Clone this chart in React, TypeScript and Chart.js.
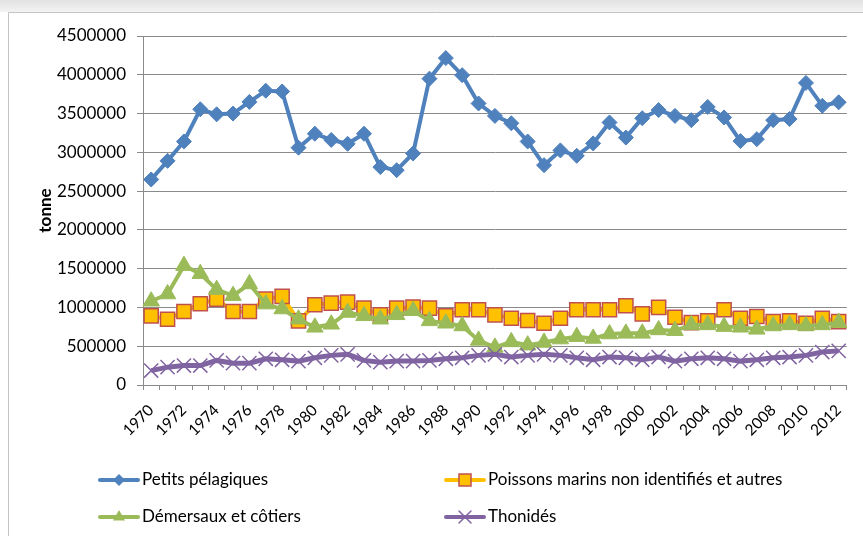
import React, { useEffect, useRef } from 'react';
import { Chart, registerables } from 'chart.js';

Chart.register(...registerables);

const years = ['1970','1971','1972','1973','1974','1975','1976','1977','1978','1979','1980','1981','1982','1983','1984','1985','1986','1987','1988','1989','1990','1991','1992','1993','1994','1995','1996','1997','1998','1999','2000','2001','2002','2003','2004','2005','2006','2007','2008','2009','2010','2011','2012'];

const petitsPelagiques = [2650000, 2890000, 3140000, 3555000, 3490000, 3500000, 3650000, 3795000, 3785000, 3060000, 3240000, 3160000, 3110000, 3240000, 2810000, 2770000, 2985000, 3950000, 4215000, 3995000, 3630000, 3470000, 3375000, 3140000, 2835000, 3025000, 2955000, 3115000, 3385000, 3190000, 3440000, 3545000, 3470000, 3415000, 3585000, 3450000, 3145000, 3170000, 3415000, 3430000, 3895000, 3600000, 3645000];

const poissonsMarins = [892000, 848000, 948000, 1048000, 1108000, 948000, 948000, 1108000, 1143000, 827000, 1035000, 1056000, 1069000, 991000, 905000, 991000, 1004000, 991000, 892000, 970000, 970000, 905000, 861000, 831000, 796000, 861000, 970000, 970000, 970000, 1022000, 918000, 1000000, 874000, 805000, 827000, 970000, 861000, 883000, 818000, 827000, 796000, 861000, 818000];

const demersaux = [1080000, 1173000, 1539000, 1435000, 1230000, 1152000, 1303000, 1043000, 980000, 848000, 744000, 783000, 935000, 892000, 848000, 905000, 957000, 827000, 796000, 761000, 575000, 485000, 556000, 513000, 548000, 592000, 623000, 600000, 657000, 666000, 666000, 710000, 700000, 775000, 775000, 753000, 744000, 718000, 761000, 775000, 761000, 775000, 805000];

const thonides = [186000, 230000, 251000, 251000, 317000, 282000, 282000, 338000, 325000, 308000, 351000, 382000, 395000, 317000, 295000, 308000, 308000, 317000, 338000, 351000, 382000, 395000, 360000, 382000, 395000, 382000, 351000, 325000, 360000, 351000, 325000, 360000, 308000, 338000, 351000, 338000, 308000, 325000, 351000, 360000, 382000, 425000, 440000];

const seriesNames = ['Petits pélagiques', 'Poissons marins non identifiés et autres', 'Démersaux et côtiers', 'Thonidés'];

const FONT = 'Lato, "Open Sans", sans-serif';
const GRID = '#8a8a8a';
const BLUE = '#4F81BD';
const YELLOW = '#FFC000';
const RED = '#C0504D';
const GREEN = '#9BBB59';
const PURPLE = '#8064A2';

function drawMarker(ctx: CanvasRenderingContext2D, kind: string, x: number, y: number) {
  ctx.save();
  if (kind === 'diamond') {
    const r = 6;
    ctx.fillStyle = BLUE;
    ctx.beginPath();
    ctx.moveTo(x - r, y); ctx.lineTo(x, y - r); ctx.lineTo(x + r, y); ctx.lineTo(x, y + r);
    ctx.closePath();
    ctx.fill();
  } else if (kind === 'square') {
    const s = 6;
    ctx.fillStyle = YELLOW;
    ctx.strokeStyle = RED;
    ctx.lineWidth = 1.5;
    ctx.fillRect(x - s, y - s, 2 * s, 2 * s);
    ctx.strokeRect(x - s, y - s, 2 * s, 2 * s);
  } else if (kind === 'triangle') {
    const r = 7;
    ctx.fillStyle = GREEN;
    ctx.beginPath();
    ctx.moveTo(x, y - r);
    ctx.lineTo(x + r * 0.866, y + r / 2);
    ctx.lineTo(x - r * 0.866, y + r / 2);
    ctx.closePath();
    ctx.fill();
  } else {
    const r = 6;
    ctx.strokeStyle = PURPLE;
    ctx.lineWidth = 1.5;
    ctx.beginPath();
    ctx.moveTo(x - r, y - r); ctx.lineTo(x + r, y + r);
    ctx.moveTo(x + r, y - r); ctx.lineTo(x - r, y + r);
    ctx.stroke();
  }
  ctx.restore();
}

export default function App() {
  const ref = useRef<HTMLCanvasElement>(null);

  useEffect(() => {
    const canvas = ref.current;
    if (!canvas) return;

    const framePlugin = {
      id: 'frame',
      beforeDraw(chart: any) {
        const { ctx, width, height } = chart;
        ctx.save();
        ctx.fillStyle = '#ffffff';
        ctx.fillRect(0, 0, width, height);
        const g = ctx.createLinearGradient(0, 0, 0, 12);
        g.addColorStop(0, '#e2e2e2');
        g.addColorStop(1, '#f3f3f3');
        ctx.fillStyle = g;
        ctx.fillRect(0, 0, width, 12);
        ctx.strokeStyle = '#c4c4c4';
        ctx.lineWidth = 1;
        ctx.beginPath();
        ctx.moveTo(8.5, height);
        ctx.lineTo(8.5, 12.5);
        ctx.lineTo(width, 12.5);
        ctx.stroke();
        ctx.restore();
      },
    };

    const legendPlugin = {
      id: 'customLegend',
      afterDraw(chart: any) {
        const { ctx } = chart;
        const items = [
          { name: seriesNames[0], color: BLUE, marker: 'diamond', x: 100, y: 480 },
          { name: seriesNames[1], color: YELLOW, marker: 'square', x: 446, y: 480 },
          { name: seriesNames[2], color: GREEN, marker: 'triangle', x: 100, y: 517 },
          { name: seriesNames[3], color: PURPLE, marker: 'cross', x: 446, y: 517 },
        ];
        ctx.save();
        for (const it of items) {
          ctx.strokeStyle = it.color;
          ctx.lineWidth = 4;
          ctx.lineCap = 'round';
          ctx.beginPath();
          ctx.moveTo(it.x, it.y);
          ctx.lineTo(it.x + 38, it.y);
          ctx.stroke();
          drawMarker(ctx, it.marker, it.x + 19, it.y);
          ctx.fillStyle = '#000';
          ctx.font = `17px ${FONT}`;
          ctx.textBaseline = 'middle';
          ctx.textAlign = 'left';
          ctx.fillText(it.name, it.x + 42, it.y);
        }
        ctx.restore();
      },
    };

    const chart = new Chart(canvas, {
      type: 'line',
      data: {
        labels: years,
        datasets: [
          {
            label: seriesNames[0],
            data: petitsPelagiques,
            borderColor: BLUE,
            backgroundColor: BLUE,
            borderWidth: 4,
            pointStyle: 'rectRot',
            pointRadius: 7.5,
            pointBackgroundColor: BLUE,
            pointBorderColor: BLUE,
            pointBorderWidth: 1,
            tension: 0,
            order: 4,
          },
          {
            label: seriesNames[1],
            data: poissonsMarins,
            borderColor: YELLOW,
            backgroundColor: YELLOW,
            borderWidth: 4,
            pointStyle: 'rect',
            pointRadius: 10,
            pointBackgroundColor: YELLOW,
            pointBorderColor: RED,
            pointBorderWidth: 1.5,
            tension: 0,
            order: 3,
          },
          {
            label: seriesNames[2],
            data: demersaux,
            borderColor: GREEN,
            backgroundColor: GREEN,
            borderWidth: 4,
            pointStyle: 'triangle',
            pointRadius: 9.5,
            pointBackgroundColor: GREEN,
            pointBorderColor: GREEN,
            pointBorderWidth: 1,
            tension: 0,
            order: 2,
          },
          {
            label: seriesNames[3],
            data: thonides,
            borderColor: PURPLE,
            backgroundColor: PURPLE,
            borderWidth: 5,
            pointStyle: 'crossRot',
            pointRadius: 10,
            pointBackgroundColor: PURPLE,
            pointBorderColor: PURPLE,
            pointBorderWidth: 1.5,
            tension: 0,
            order: 1,
          },
        ],
      },
      options: {
        responsive: false,
        animation: false,
        devicePixelRatio: 1,
        layout: { padding: { left: 0, top: 36, right: 15, bottom: 91 } },
        plugins: {
          legend: { display: false },
          tooltip: { enabled: false },
        },
        scales: {
          x: {
            type: 'category',
            offset: true,
            grid: {
              offset: true,
              drawOnChartArea: false,
              drawTicks: true,
              tickLength: 5,
              color: GRID,
              tickColor: GRID,
            },
            border: { color: GRID, width: 1 },
            ticks: {
              autoSkip: false,
              maxRotation: 45,
              minRotation: 45,
              padding: 11,
              color: '#000',
              font: { family: FONT, size: 15.5 },
              callback: (_v: any, i: number) => (i % 2 === 0 ? years[i] : ''),
            },
            afterFit: (s: any) => { s.height = 60; },
          },
          y: {
            min: 0,
            max: 4500000,
            ticks: {
              stepSize: 500000,
              padding: 11,
              color: '#000',
              font: { family: FONT, size: 17 },
              callback: (v: any) => String(v),
            },
            grid: { color: GRID, tickColor: GRID, tickLength: 6 },
            border: { color: GRID, width: 1 },
            title: {
              display: true,
              text: 'tonne',
              color: '#000',
              font: { family: FONT, size: 17, weight: 'bold' },
              padding: { top: 35, bottom: 0 },
            },
            afterFit: (s: any) => { s.width = 143; },
          },
        },
      },
      plugins: [framePlugin, legendPlugin],
    } as any);

    return () => chart.destroy();
  }, []);

  return (
    <div style={{ position: 'fixed', left: 0, top: 0, width: 863, height: 536 }}>
      <canvas ref={ref} width={863} height={536} style={{ display: 'block', width: 863, height: 536 }} />
    </div>
  );
}
